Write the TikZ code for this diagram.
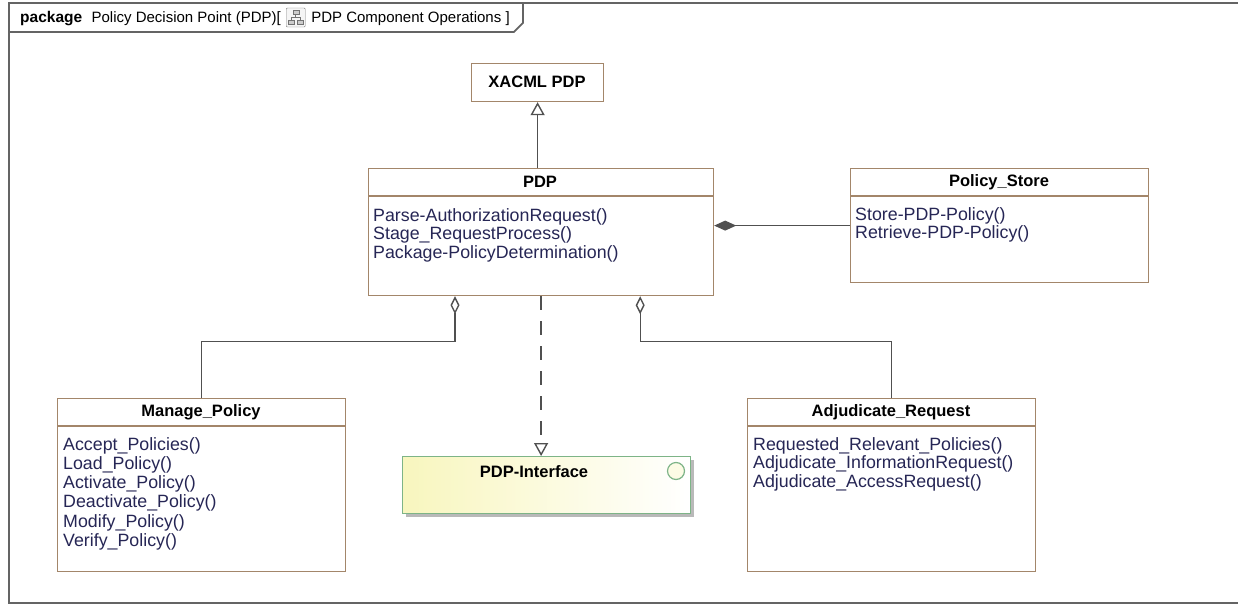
\documentclass[tikz,border=0pt]{standalone}
\usepackage{fontspec}
\setmainfont{Liberation Sans}
\usetikzlibrary{arrows.meta,shadows,calc}
\definecolor{boxbrown}{RGB}{163,134,106}
\definecolor{optext}{RGB}{38,38,85}
\definecolor{conncol}{RGB}{80,80,80}
\definecolor{framegray}{RGB}{100,100,100}
\definecolor{ifgreen}{RGB}{125,180,135}
\definecolor{ifyellow}{RGB}{248,246,190}
\tikzset{
  cls/.style={draw=boxbrown, line width=1.2pt, fill=white, inner sep=0pt, anchor=north west},
  sepline/.style={draw=boxbrown, line width=1.2pt},
  hdr/.style={font=\fontsize{16.5}{18}\selectfont\bfseries, inner sep=0pt, text=black},
  op/.style={font=\fontsize{17.8}{19}\selectfont, text=optext, inner sep=0pt, anchor=base west},
  conn/.style={draw=conncol, line width=1.4pt},
  framestyle/.style={draw=framegray, line width=1.8pt},
  ttl/.style={font=\fontsize{15}{17}\selectfont, inner sep=0pt, anchor=base west, text=black},
}
\begin{document}
\begin{tikzpicture}[x=1pt,y=-1pt]
\useasboundingbox (0,0) rectangle (1238,607);
% frame
\draw[framestyle] (1250,3) -- (9,3) -- (9,603) -- (1250,603);
% title
\node[ttl, font=\fontsize{15.5}{17}\selectfont\bfseries] (t1) at (20,23) {package};
\node[ttl] (t2) at ($(t1.base east)+(9,0)$) {Policy Decision Point (PDP)[};
\node[draw=gray, fill=gray!8, rounded corners=1pt, minimum size=19pt, inner sep=0pt, anchor=west] (icon) at ($(t2.base east)+(5,-5.5)$) {};
\node[draw=gray!90!black, fill=gray!40, minimum width=6pt, minimum height=4pt, inner sep=0pt] (ic1) at ($(icon.center)+(0,-5)$) {};
\node[draw=gray!90!black, fill=gray!40, minimum width=6pt, minimum height=4pt, inner sep=0pt] (ic2) at ($(icon.center)+(-4.5,5)$) {};
\node[draw=gray!90!black, fill=gray!40, minimum width=6pt, minimum height=4pt, inner sep=0pt] (ic3) at ($(icon.center)+(4.5,5)$) {};
\draw[gray!90!black, line width=0.6pt] (ic1.south) -- ++(0,3) -| (ic2.north);
\draw[gray!90!black, line width=0.6pt] (ic1.south) ++(0,3) -| (ic3.north);
\node[ttl] (t3) at ($(t2.base east)+(30,0)$) {PDP Component Operations ]};
\draw[framestyle] (9,32) -- ($(t3.base east |- 0,32)+(4,0)$) -- ($(t3.base east |- 0,23)+(13,0)$) -- ($(t3.base east |- 0,3)+(13,0)$);

% XACML PDP
\node[cls, minimum width=132pt, minimum height=38pt] (xacml) at (471,63) {};
\node[hdr] (xacmlh) at (537,82) {XACML PDP};

% PDP
\node[cls, minimum width=345pt, minimum height=127pt] (pdp) at (368,168) {};
\draw[sepline] ([yshift=-28pt]pdp.north west) -- ([yshift=-28pt]pdp.north east);
\node[hdr] (pdph) at (540,182) {PDP};
\foreach [count=\i] \t in {Parse-AuthorizationRequest(),Stage\_RequestProcess(),Package-PolicyDetermination()}
  \node[op] (pdpop\i) at (373,{221+18.8*(\i-1)}) {\t};

% Policy_Store
\node[cls, minimum width=298pt, minimum height=114pt] (ps) at (850,168) {};
\draw[sepline] ([yshift=-28pt]ps.north west) -- ([yshift=-28pt]ps.north east);
\node[hdr] (psh) at (999,182) {Policy\_Store};
\foreach [count=\i] \t in {Store-PDP-Policy(),Retrieve-PDP-Policy()}
  \node[op] (psop\i) at (855,{220+18.8*(\i-1)}) {\t};

% Manage_Policy
\node[cls, minimum width=288pt, minimum height=173pt] (mp) at (57,398) {};
\draw[sepline] ([yshift=-28pt]mp.north west) -- ([yshift=-28pt]mp.north east);
\node[hdr] (mph) at (201,412) {Manage\_Policy};
\foreach [count=\i] \t in {Accept\_Policies(),Load\_Policy(),Activate\_Policy(),Deactivate\_Policy(),Modify\_Policy(),Verify\_Policy()}
  \node[op] (mpop\i) at (63,{450+19.3*(\i-1)}) {\t};

% Adjudicate_Request
\node[cls, minimum width=288pt, minimum height=173pt] (ar) at (747,398) {};
\draw[sepline] ([yshift=-28pt]ar.north west) -- ([yshift=-28pt]ar.north east);
\node[hdr] (arh) at (891,412) {Adjudicate\_Request};
\foreach [count=\i] \t in {Requested\_Relevant\_Policies(),Adjudicate\_InformationRequest(),Adjudicate\_AccessRequest()}
  \node[op] (arop\i) at (753,{450+18.8*(\i-1)}) {\t};

% PDP-Interface
\node[draw=ifgreen, line width=1.2pt, left color=ifyellow, right color=white, minimum width=288pt, minimum height=57pt, inner sep=0pt, anchor=north west,
      drop shadow={shadow xshift=3pt, shadow yshift=-3pt, fill=gray!55, opacity=1}] (pi) at (402,456) {};
\node[hdr] (pih) at (534,472) {PDP-Interface};
\node[circle, draw=ifgreen, line width=1.2pt, fill=ifyellow!40, minimum size=17pt, inner sep=0pt] (pic) at (676,471) {};

% connectors
\draw[conn, -{Triangle[open, length=13pt, width=14pt, fill=white]}] (pdp.north -| xacml.south) -- (xacml.south);
\draw[conn, {Diamond[length=22pt, width=10pt, fill=conncol]}-] (ps.west -| pdp.east) -- (ps.west);
\draw[conn, {Diamond[open, length=18pt, width=9pt, fill=white]}-] ([xshift=87pt]pdp.south west) -- ++(0,45) -| (mp.north);
\draw[conn, {Diamond[open, length=18pt, width=9pt, fill=white]}-] ([xshift=-74pt]pdp.south east) -- ++(0,45) -| (ar.north);
\draw[conn, dash pattern=on 14pt off 11pt, -{Triangle[open, length=13pt, width=14pt, fill=white]}] (pdp.south) -- (pdp.south |- pi.north);
\end{tikzpicture}
\end{document}
